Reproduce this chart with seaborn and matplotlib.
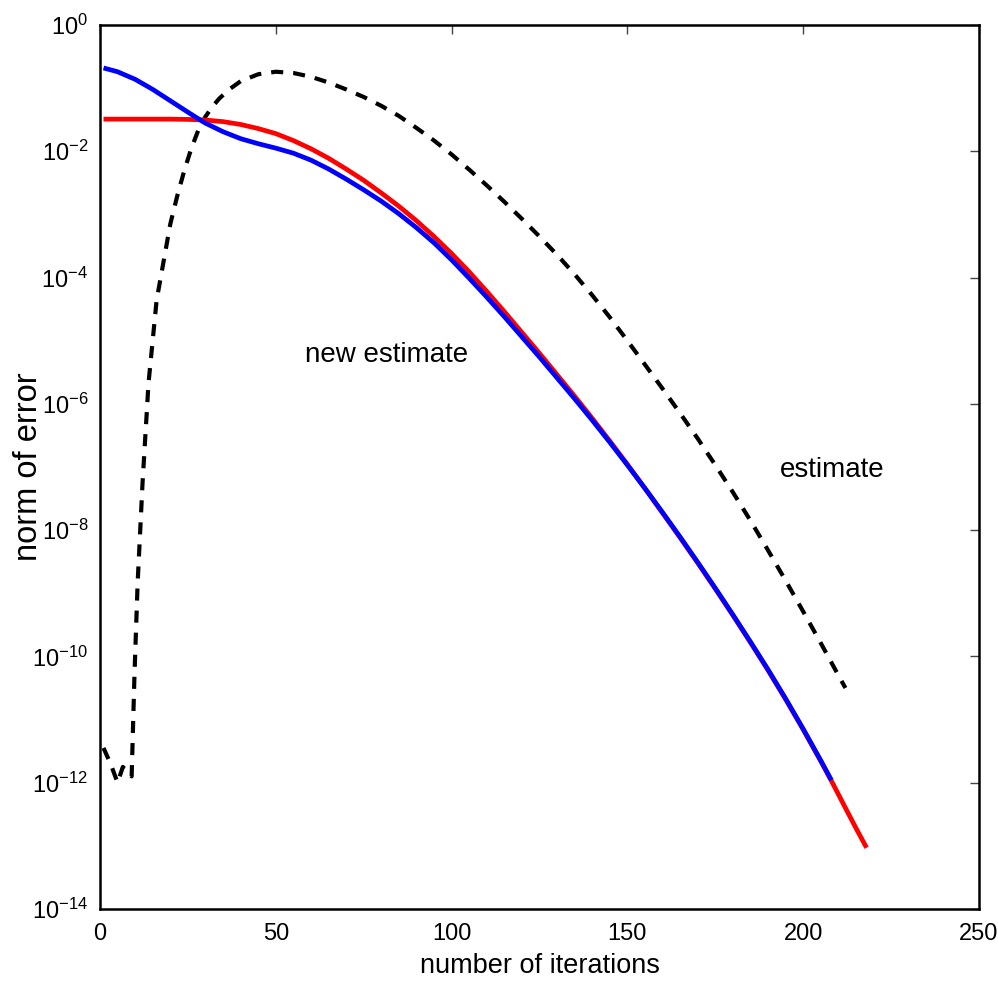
import numpy as np
import pandas as pd
import matplotlib
matplotlib.use("Agg")
import matplotlib.pyplot as plt
import matplotlib.font_manager as fm
import seaborn as sns
from matplotlib.ticker import FixedLocator, NullLocator

# ---- data (log10 of the error norm) ----
estimate_x = [1, 3, 5, 6.5, 9, 9.8, 10.7, 12.1, 13.8, 16.1, 20, 22, 24, 26, 28, 30, 32,
              34, 37, 40, 45, 50, 55, 60, 65, 70, 75, 80, 85, 90, 95, 100, 105, 110,
              115, 120, 125, 130, 135, 140, 145, 150, 155, 160, 165, 170, 175, 180,
              185, 190, 195, 200, 205, 210, 212]
estimate_log = [-11.45, -11.7, -12.0, -11.75, -11.9, -10.3, -8.84, -7.25, -5.67, -4.36,
                -3.15, -2.7, -2.3, -1.95, -1.66, -1.45, -1.29, -1.16, -1.01, -0.89,
                -0.78, -0.74, -0.76, -0.82, -0.91, -1.02, -1.14, -1.28, -1.44, -1.63,
                -1.83, -2.05, -2.29, -2.54, -2.8, -3.07, -3.35, -3.64, -3.95, -4.28,
                -4.63, -5.0, -5.38, -5.76, -6.15, -6.55, -6.97, -7.4, -7.85, -8.32,
                -8.8, -9.29, -9.79, -10.3, -10.5]

red_x = [1, 5, 10, 15, 20, 25, 30, 35, 40, 45, 50, 55, 60, 65, 70, 75, 80, 85, 90, 95,
         100, 105, 110, 115, 120, 125, 130, 135, 140, 145, 150, 155, 160, 165, 170,
         175, 180, 185, 190, 195, 200, 205, 208, 212, 215, 218]
red_log = [-1.49, -1.49, -1.49, -1.49, -1.49, -1.495, -1.505, -1.53, -1.575, -1.64,
           -1.72, -1.83, -1.96, -2.11, -2.28, -2.46, -2.66, -2.87, -3.1, -3.35, -3.62,
           -3.91, -4.22, -4.54, -4.87, -5.2, -5.54, -5.88, -6.23, -6.59, -6.96, -7.34,
           -7.73, -8.12, -8.52, -8.93, -9.35, -9.78, -10.22, -10.68, -11.16, -11.66,
           -11.97, -12.4, -12.72, -13.03]

blue_x = [1, 5, 10, 15, 20, 25, 28.4, 30, 35, 40, 45, 50, 55, 60, 65, 70, 75, 80,
          85, 90, 95, 100, 105, 110, 115, 120, 125, 130, 135, 140, 145, 150, 155, 160,
          165, 170, 175, 180, 185, 190, 195, 200, 205, 208]
blue_log = [-0.68, -0.74, -0.86, -1.02, -1.2, -1.38, -1.5, -1.555, -1.69, -1.8, -1.88,
            -1.95, -2.03, -2.14, -2.28, -2.44, -2.61, -2.79, -2.99, -3.21, -3.45,
            -3.72, -4.01, -4.31, -4.62, -4.94, -5.26, -5.59, -5.92, -6.26, -6.61, -6.97,
            -7.34, -7.72, -8.11, -8.51, -8.92, -9.34, -9.77, -10.21, -10.67, -11.15,
            -11.65, -11.96]

x_ticks = [0, 50, 100, 150, 200, 250]
y_tick_exps = [0, -2, -4, -6, -8, -10, -12, -14]

sns.set_style("white")
names = {f.name for f in fm.fontManager.ttflist}
narrow = "Liberation Sans Narrow" if "Liberation Sans Narrow" in names else "Liberation Sans"
plt.rcParams['font.family'] = ['Liberation Sans', 'DejaVu Sans']
plt.rcParams['mathtext.fontset'] = 'custom'
plt.rcParams['mathtext.rm'] = narrow
plt.rcParams['mathtext.it'] = narrow
plt.rcParams['mathtext.default'] = 'regular'
plt.rcParams['text.color'] = 'black'
plt.rcParams['xtick.color'] = 'black'
plt.rcParams['ytick.color'] = 'black'
plt.rcParams['axes.labelcolor'] = 'black'

fig = plt.figure(figsize=(9.98, 9.85), dpi=100)
ax = fig.add_axes([0.1002, 0.0772, 0.8808, 0.8974])

df_est = pd.DataFrame({"x": estimate_x, "y": np.power(10.0, estimate_log)})
df_red = pd.DataFrame({"x": red_x, "y": np.power(10.0, red_log)})
df_blue = pd.DataFrame({"x": blue_x, "y": np.power(10.0, blue_log)})

sns.lineplot(data=df_est, x="x", y="y", ax=ax, color="black", linewidth=3.0,
             linestyle=(0, (2.9, 2.4)), estimator=None, sort=False)
sns.lineplot(data=df_red, x="x", y="y", ax=ax, color="#ff0000", linewidth=3.4,
             estimator=None, sort=False, solid_capstyle="butt")
sns.lineplot(data=df_blue, x="x", y="y", ax=ax, color="#0000ff", linewidth=3.4,
             estimator=None, sort=False, solid_capstyle="butt")

ax.set_yscale("log")
ax.set_xlim(0, 250)
ax.set_ylim(1e-14, 1)
ax.xaxis.set_major_locator(FixedLocator(x_ticks))
ax.set_xticklabels([str(t) for t in x_ticks], fontfamily=narrow)
ax.yaxis.set_major_locator(FixedLocator([10.0 ** e for e in y_tick_exps]))
ax.yaxis.set_minor_locator(NullLocator())
ax.set_yticklabels([r"$10^{%d}$" % e for e in y_tick_exps])

ax.tick_params(axis="both", which="major", direction="in", length=6.5, width=1,
               top=True, right=True, color="#444444")
ax.tick_params(axis="x", labelsize=17, pad=10)
ax.tick_params(axis="y", labelsize=17, pad=8.5)
for s in ax.spines.values():
    s.set_visible(True)
    s.set_color("black")
    s.set_linewidth(1.8)

ax.set_xlabel("number of iterations", fontsize=19.5)
ax.set_ylabel("norm of error", fontsize=23.5)
ax.xaxis.set_label_coords(0.5, -0.05)
ax.yaxis.set_label_coords(-0.064, 0.5)

ax.text(81.5, 10 ** -5.23, "new estimate", fontsize=20, ha="center", va="center")
ax.text(208.2, 10 ** -7.05, "estimate", fontsize=20, ha="center", va="center")

fig.savefig("out.png", dpi=100)
